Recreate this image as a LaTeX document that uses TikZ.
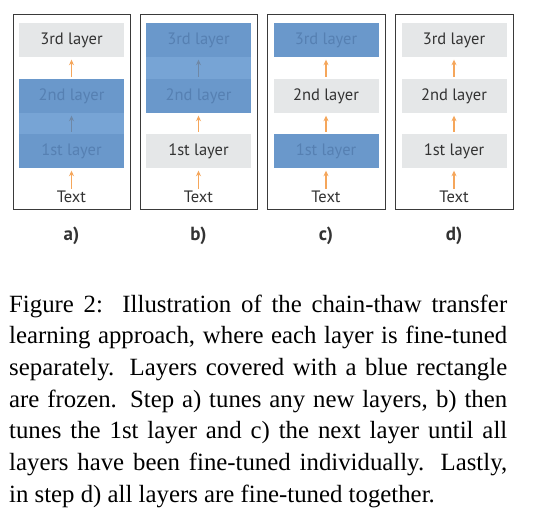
\documentclass[tikz,border=0pt]{standalone}
\usepackage{fontspec}
\setmainfont{Liberation Serif}
\setsansfont{PT Sans}
\usetikzlibrary{arrows.meta}
\definecolor{framec}{HTML}{3A3A3A}
\definecolor{grayfill}{HTML}{E5E7E8}
\definecolor{textc}{HTML}{333333}
\definecolor{orangec}{HTML}{F5A65B}
\definecolor{bluel}{HTML}{6A98CB}
\definecolor{bluegap}{HTML}{77A4D5}
\definecolor{bluet}{HTML}{5680B2}
\definecolor{bluea}{HTML}{6F88A6}
\begin{document}
\begin{tikzpicture}[x=1pt,y=-1pt,
  frame/.style={draw=framec, line width=0.9pt},
  layer/.style={minimum width=105pt, minimum height=34pt, inner sep=0pt,
    font=\sffamily\fontsize{16.5}{16.5}\selectfont, fill=grayfill, text=textc},
  frozen/.style={fill=bluel, text=bluet},
  inp/.style={inner sep=0pt, font=\sffamily\fontsize{16.5}{16.5}\selectfont, text=textc},
  arr/.style={-{Stealth[length=5.5pt,width=5pt]}, draw=orangec, line width=1.1pt,
    shorten >=2.5pt, shorten <=2pt},
  farr/.style={draw=bluea, -{Stealth[length=5.5pt,width=5pt]}, line width=1.1pt,
    shorten >=2.5pt, shorten <=2pt},
  tag/.style={font=\sffamily\bfseries\fontsize{19}{19}\selectfont, text=textc, inner sep=0pt},
  caption/.style={anchor=north west, inner sep=0pt, text width=498pt, align=justify,
    font=\fontsize{24.8}{31.7}\selectfont}]
\useasboundingbox (0,0) rectangle (534,521);
\fill[white] (0,0) rectangle (534,521);

% frames
\foreach \n/\xl/\xr in {a/13/130, b/140/257, c/267/385, d/395/513}{
  \node[frame, minimum width={\xr-\xl}, minimum height=195pt, inner sep=0pt]
    (\n frame) at ({(\xl+\xr)/2}, 111.5) {};
}

% text inputs and panel tags
\foreach \n/\cx in {a/71.5, b/198.5, c/326, d/454}{
  \node[inp] (\n t) at (\cx,197) {Text};
  \node[tag] (\n lab) at (\cx,236) {\n)};
}

% panel a: 1st and 2nd frozen
\fill[bluegap] (19,79) rectangle (124,168);
\node[layer, frozen] (a1) at (71.5,151) {1st layer};
\node[layer, frozen] (a2) at (71.5,96) {2nd layer};
\node[layer] (a3) at (71.5,40) {3rd layer};
\draw[arr] (at.north) -- (a1.south);
\draw[farr] (a1.north) -- (a2.south);
\draw[arr] (a2.north) -- (a3.south);

% panel b: 2nd and 3rd frozen
\fill[bluegap] (146,23) rectangle (251,113);
\node[layer] (b1) at (198.5,151) {1st layer};
\node[layer, frozen] (b2) at (198.5,96) {2nd layer};
\node[layer, frozen] (b3) at (198.5,40) {3rd layer};
\draw[arr] (bt.north) -- (b1.south);
\draw[arr] (b1.north) -- (b2.south);
\draw[farr] (b2.north) -- (b3.south);

% panel c: 1st and 3rd frozen
\node[layer, frozen] (c1) at (326,151) {1st layer};
\node[layer] (c2) at (326,96) {2nd layer};
\node[layer, frozen] (c3) at (326,40) {3rd layer};
\draw[arr] (ct.north) -- (c1.south);
\draw[arr] (c1.north) -- (c2.south);
\draw[arr] (c2.north) -- (c3.south);

% panel d: none frozen
\node[layer] (d1) at (454,151) {1st layer};
\node[layer] (d2) at (454,96) {2nd layer};
\node[layer] (d3) at (454,40) {3rd layer};
\draw[arr] (dt.north) -- (d1.south);
\draw[arr] (d1.north) -- (d2.south);
\draw[arr] (d2.north) -- (d3.south);

% caption
\node[caption] (cap) at (9,294.5) {Figure 2:\ \ Illustration of the chain-thaw transfer\linebreak
learning approach, where each layer is fine-tuned\linebreak
separately.  Layers covered with a blue rectangle\linebreak
are frozen.  Step a) tunes any new layers, b) then\linebreak
tunes the 1st layer and c) the next layer until all\linebreak
layers have been fine-tuned individually.  Lastly,\linebreak
in step d) all layers are fine-tuned together.};
\end{tikzpicture}
\end{document}
